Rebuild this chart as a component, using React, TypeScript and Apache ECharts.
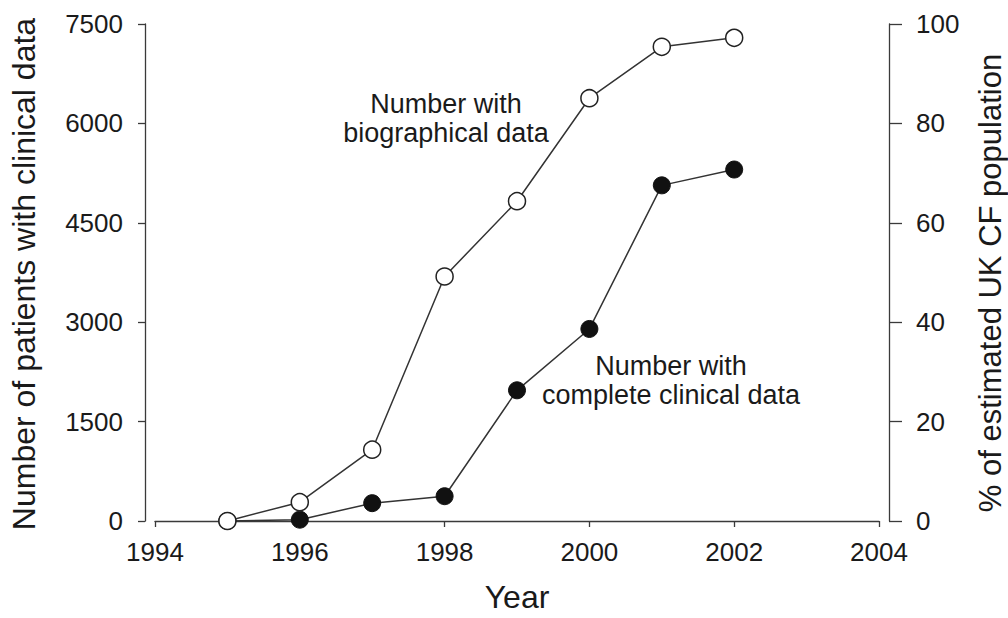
import React, { useEffect, useRef } from "react";
import * as echarts from "echarts";

const yearsBio = [1995, 1996, 1997, 1998, 1999, 2000, 2001, 2002];
const bioValues = [0, 284, 1076, 3690, 4826, 6380, 7156, 7291];
const yearsClin = [1995, 1996, 1997, 1998, 1999, 2000, 2001, 2002];
const clinValues = [0, 20, 269, 374, 1972, 2898, 5065, 5304];
const leftTicks = [0, 1500, 3000, 4500, 6000, 7500];
const rightTicks = [0, 20, 40, 60, 80, 100];
const xTicks = [1994, 1996, 1998, 2000, 2002, 2004];

const FONT = "Liberation Sans, Arial, sans-serif";
const AX = "#3a3a3a";
const TXT = "#1a1a1a";

export default function App() {
  const ref = useRef<HTMLDivElement>(null);
  useEffect(() => {
    document.body.style.margin = "0";
    const chart = echarts.init(ref.current!, null, { renderer: "svg" });
    const bio = yearsBio.map((y, i) => [y, bioValues[i]]);
    const clin = yearsClin.map((y, i) => [y, clinValues[i]]);
    const label = (text: string, x: number, y: number, size: number, rot = 0) => ({
      type: "text",
      x,
      y,
      rotation: rot,
      style: {
        text,
        fontSize: size,
        fontFamily: FONT,
        fill: TXT,
        textAlign: "center",
        textVerticalAlign: "middle",
      },
    });
    chart.setOption({
      animation: false,
      backgroundColor: "#ffffff",
      textStyle: { fontFamily: FONT },
      grid: { left: 155, right: 129, top: 24, bottom: 92 },
      xAxis: {
        type: "value",
        min: xTicks[0],
        max: xTicks[xTicks.length - 1],
        interval: 2,
        name: "Year",
        nameLocation: "middle",
        nameGap: 60,
        nameTextStyle: { fontSize: 32, color: TXT, fontFamily: FONT },
        axisLine: { show: true, lineStyle: { color: AX, width: 1.3 } },
        axisTick: { show: true, inside: false, length: 6, lineStyle: { color: AX, width: 1.3 } },
        axisLabel: {
          fontSize: 26,
          color: TXT,
          margin: 18,
          fontFamily: FONT,
          formatter: (v: number) => String(v),
        },
        splitLine: { show: false },
      },
      yAxis: [
        {
          type: "value",
          position: "left",
          min: leftTicks[0],
          max: leftTicks[leftTicks.length - 1],
          interval: 1500,
          offset: 10,
          axisLine: { show: true, lineStyle: { color: AX, width: 1.3 } },
          axisTick: { show: true, length: 7, lineStyle: { color: AX, width: 1.3 } },
          axisLabel: {
            fontSize: 26,
            color: TXT,
            margin: 22,
            fontFamily: FONT,
            formatter: (v: number) => String(v),
          },
          splitLine: { show: false },
        },
        {
          type: "value",
          position: "right",
          min: rightTicks[0],
          max: rightTicks[rightTicks.length - 1],
          interval: 20,
          offset: 10,
          axisLine: { show: true, lineStyle: { color: AX, width: 1.3 } },
          axisTick: { show: true, length: 13, lineStyle: { color: AX, width: 1.3 } },
          axisLabel: {
            fontSize: 26,
            color: TXT,
            margin: 27,
            fontFamily: FONT,
            formatter: (v: number) => String(v),
          },
          splitLine: { show: false },
        },
      ],
      graphic: [
        label("Number of patients with clinical data", 24, 274, 32, Math.PI / 2),
        label("% of estimated UK CF population", 990, 283, 31, Math.PI / 2),
        label("Number with", 446, 104, 27),
        label("biographical data", 446, 133, 27),
        label("Number with", 671, 366, 27),
        label("complete clinical data", 671, 395, 27),
      ],
      series: [
        {
          name: "Number with complete clinical data",
          type: "line",
          yAxisIndex: 0,
          data: clin,
          symbol: "circle",
          symbolSize: 17,
          showAllSymbol: true,
          itemStyle: { color: "#111111", borderColor: "#111111", borderWidth: 1 },
          lineStyle: { color: "#333333", width: 1.5 },
          z: 2,
        },
        {
          name: "Number with biographical data",
          type: "line",
          yAxisIndex: 0,
          data: bio,
          symbol: "circle",
          symbolSize: 17,
          showAllSymbol: true,
          itemStyle: { color: "#ffffff", borderColor: "#222222", borderWidth: 1.5 },
          lineStyle: { color: "#333333", width: 1.5 },
          z: 3,
        },
      ],
    });
    return () => chart.dispose();
  }, []);
  return <div ref={ref} style={{ width: 1008, height: 618 }} />;
}
